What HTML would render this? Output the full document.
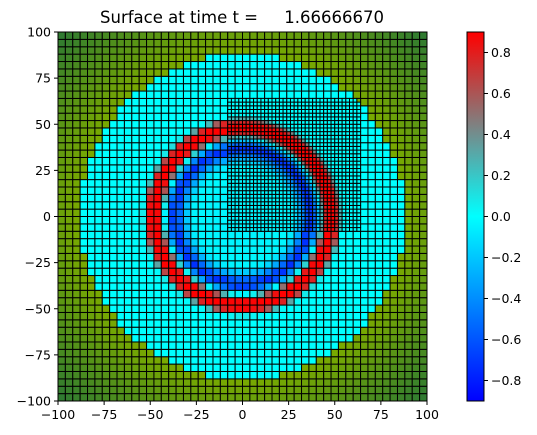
<!DOCTYPE html>
<html><head><meta charset="utf-8"><style>
html,body{margin:0;padding:0;background:#fff;}
svg{display:block;font-family:"DejaVu Sans","Liberation Sans",sans-serif;}
</style></head><body>
<svg id="chart" width="537" height="435" viewBox="0 0 537 435" xmlns="http://www.w3.org/2000/svg">
<defs>
<linearGradient id="cbgrad" x1="0" y1="1" x2="0" y2="0">
<stop offset="0" stop-color="#0000ff"/>
<stop offset="0.5" stop-color="#00ffff"/>
<stop offset="0.75" stop-color="#808080"/>
<stop offset="1" stop-color="#ff0000"/>
</linearGradient>
</defs>
<text x="242" y="23" font-size="16.5" text-anchor="middle" fill="#000" xml:space="preserve">Surface at time t =     1.66666670</text>
<g id="mesh"></g>
<rect x="58" y="32" width="369" height="369" fill="none" stroke="#000" stroke-width="1"/>
<g id="axes"></g>
<rect x="467" y="32" width="17" height="369" fill="url(#cbgrad)" stroke="#000" stroke-width="1"/>
<g id="cbticks"></g>
</svg>
<script>
// data
const xTicks = [-100, -75, -50, -25, 0, 25, 50, 75, 100];
const yTicks = [-100, -75, -50, -25, 0, 25, 50, 75, 100];
const cbTicks = [-0.8, -0.6, -0.4, -0.2, 0.0, 0.2, 0.4, 0.6, 0.8];
const cbRange = [-0.9, 0.9];
const domain = [-100, 100];
const coarseStep = [4];
const fineRegion = [-8, 64];
const fineStep = [2];
const ringCenters = [48, 37, 32, 0];      // red crest, blue trough, light-blue tail, interior
const ringWidths = [4.8, 3.8, 3.5, 28];
const ringAmps = [0.9, -0.7, -0.2, -0.04];
const ringPowers = [4, 2, 2, 4];
const waterRadius = [88];
const landRadiusMax = [140];

const NS = "http://www.w3.org/2000/svg";
const px0 = 58, px1 = 427, py0 = 32, py1 = 401;
function sx(x){ return px0 + (x - domain[0]) / (domain[1] - domain[0]) * (px1 - px0); }
function sy(y){ return py1 - (y - domain[0]) / (domain[1] - domain[0]) * (py1 - py0); }
function cy(v){ return 401 - (v - cbRange[0]) / (cbRange[1] - cbRange[0]) * 369; }

function lerp(a,b,t){ return a+(b-a)*t; }
function cmap(v){
  let t = (v - cbRange[0])/(cbRange[1]-cbRange[0]);
  t = Math.max(0, Math.min(1, t));
  const stops = [[0,[0,0,255]],[0.5,[0,255,255]],[0.75,[128,128,128]],[1,[255,0,0]]];
  for (let i=0;i<stops.length-1;i++){
    const [t0,c0]=stops[i],[t1,c1]=stops[i+1];
    if (t<=t1){ const f=(t-t0)/(t1-t0);
      return `rgb(${Math.round(lerp(c0[0],c1[0],f))},${Math.round(lerp(c0[1],c1[1],f))},${Math.round(lerp(c0[2],c1[2],f))})`; }
  }
  return "rgb(255,0,0)";
}
function surf(r){
  let v = 0;
  for (let i=0;i<ringCenters.length;i++){
    const d=Math.abs(r-ringCenters[i])/ringWidths[i];
    v += ringAmps[i]*Math.exp(-Math.pow(d, ringPowers[i]));
  }
  return v;
}
function cellColor(xc, yc){
  const r = Math.hypot(xc, yc);
  if (r < waterRadius[0]) return cmap(surf(r));
  const f = Math.min(1, (r - waterRadius[0]) / (landRadiusMax[0] - waterRadius[0]));
  return `rgb(${Math.round(lerp(122,46,f))},${Math.round(lerp(170,122,f))},${Math.round(lerp(0,50,f))})`;
}
const mesh = document.getElementById('mesh');
function drawCell(x0, y0, s){
  const r = document.createElementNS(NS, 'rect');
  
  
  const X0 = sx(x0), X1 = sx(x0+s), Y0 = sy(y0+s), Y1 = sy(y0);
  r.setAttribute('x', X0.toFixed(2)); r.setAttribute('y', Y0.toFixed(2));
  r.setAttribute('width', (X1-X0).toFixed(2)); r.setAttribute('height', (Y1-Y0).toFixed(2));
  r.setAttribute('fill', cellColor(x0+s/2, y0+s/2));
  r.setAttribute('stroke', '#000'); r.setAttribute('stroke-width', '1');
  mesh.appendChild(r);
}
const cs = coarseStep[0];
for (let x = domain[0]; x < domain[1]; x += cs)
  for (let y = domain[0]; y < domain[1]; y += cs) drawCell(x, y, cs);
const fs = fineStep[0];
for (let x = fineRegion[0]; x < fineRegion[1]; x += fs)
  for (let y = fineRegion[0]; y < fineRegion[1]; y += fs) drawCell(x, y, fs);

const axes = document.getElementById('axes');
xTicks.forEach(t => {
  const X = sx(t);
  const l = document.createElementNS(NS,'line');
   
  l.setAttribute('x1',X); l.setAttribute('x2',X); l.setAttribute('y1',401); l.setAttribute('y2',405);
  l.setAttribute('stroke','#000'); axes.appendChild(l);
  const tx = document.createElementNS(NS,'text');
   
  tx.setAttribute('x',X); tx.setAttribute('y',419); tx.setAttribute('font-size','12.5');
  tx.setAttribute('text-anchor','middle'); tx.textContent = (t<0?'\u2212'+(-t):String(t));
  axes.appendChild(tx);
});
yTicks.forEach(t => {
  const Y = sy(t);
  const l = document.createElementNS(NS,'line');
   
  l.setAttribute('x1',54); l.setAttribute('x2',58); l.setAttribute('y1',Y); l.setAttribute('y2',Y);
  l.setAttribute('stroke','#000'); axes.appendChild(l);
  const tx = document.createElementNS(NS,'text');
   
  tx.setAttribute('x',51); tx.setAttribute('y',Y+4.5); tx.setAttribute('font-size','12.5');
  tx.setAttribute('text-anchor','end'); tx.textContent = (t<0?'\u2212'+(-t):String(t));
  axes.appendChild(tx);
});
const cbt = document.getElementById('cbticks');
cbTicks.forEach(t => {
  const Y = cy(t);
  const l = document.createElementNS(NS,'line');
   
  l.setAttribute('x1',484); l.setAttribute('x2',488); l.setAttribute('y1',Y); l.setAttribute('y2',Y);
  l.setAttribute('stroke','#000'); cbt.appendChild(l);
  const tx = document.createElementNS(NS,'text');
   
  tx.setAttribute('x',491); tx.setAttribute('y',Y+4.5); tx.setAttribute('font-size','12.5');
  tx.textContent = (t<0?'\u2212':'') + Math.abs(t).toFixed(1);
  cbt.appendChild(tx);
});
</script>
</body></html>
